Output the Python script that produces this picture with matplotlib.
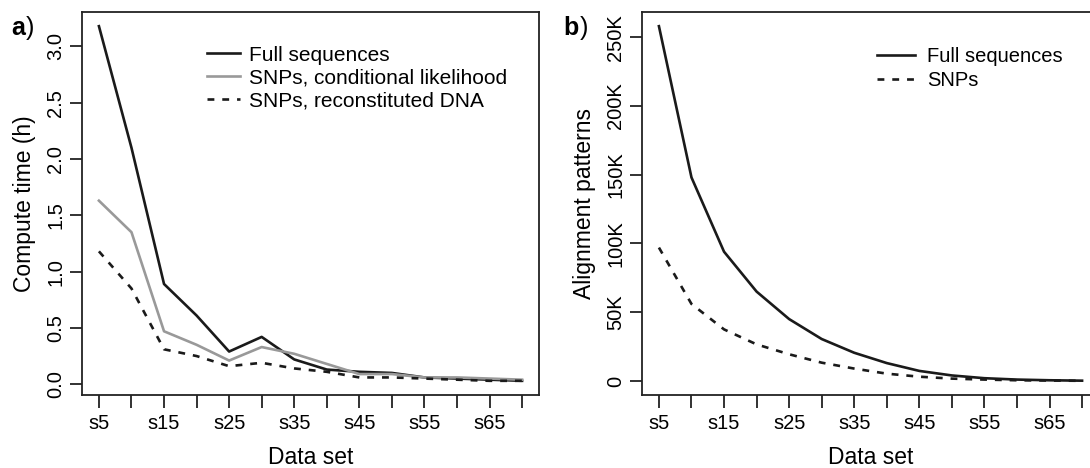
import numpy as np
import matplotlib
matplotlib.use('Agg')
import matplotlib.pyplot as plt

plt.rcParams['font.family'] = ['Liberation Sans', 'DejaVu Sans']

# data sets s5 .. s70
sets = [5, 10, 15, 20, 25, 30, 35, 40, 45, 50, 55, 60, 65, 70]
set_labels = ['s%d' % s if i % 2 == 0 else '' for i, s in enumerate(sets)]

# a) compute time in hours
time_full = [3.18, 2.10, 0.89, 0.61, 0.29, 0.42, 0.22, 0.13, 0.11, 0.10, 0.06, 0.05, 0.04, 0.03]
time_snp_cl = [1.63, 1.35, 0.47, 0.35, 0.21, 0.33, 0.27, 0.18, 0.09, 0.09, 0.06, 0.06, 0.05, 0.04]
time_snp_dna = [1.18, 0.85, 0.31, 0.25, 0.16, 0.19, 0.14, 0.11, 0.06, 0.06, 0.05, 0.04, 0.03, 0.03]

# b) alignment patterns
pat_full = [258000, 148000, 94000, 65000, 45000, 30500, 20500, 13000, 7300, 4000, 2000, 1000, 500, 200]
pat_snp = [97000, 56000, 37500, 26600, 19400, 13300, 9000, 5300, 3100, 1700, 1000, 500, 300, 100]

a_yticks = [0.0, 0.5, 1.0, 1.5, 2.0, 2.5, 3.0]
b_yticks = [0, 50000, 100000, 150000, 200000, 250000]
b_ylabels = ['0', '50K', '100K', '150K', '200K', '250K']

W, H = 1090, 468
fig = plt.figure(figsize=(W / 100, H / 100), dpi=100)

ax_w = 457 / W
ax_h = 383 / H
ax_b = 73 / H
axa = fig.add_axes([82 / W, ax_b, ax_w, ax_h])
axb = fig.add_axes([642 / W, ax_b, ax_w, ax_h])

dark = '#1a1a1a'
grey = '#999999'
lw = 1.9
dash = (2.6, 3.0)


def r_limits(vals):
    # R style 4% padding
    lo, hi = min(vals), max(vals)
    pad = (hi - lo) * 0.04
    return lo - pad, hi + pad


def style(ax):
    for sp in ax.spines.values():
        sp.set_linewidth(1.3)
        sp.set_color('#222222')
    ax.tick_params(axis='both', length=9, width=1.3, color='#222222',
                   labelsize=14.5, pad=5)
    ax.tick_params(axis='y', pad=3)
    ax.set_xticks(sets)
    ax.set_xticklabels(set_labels)
    ax.set_xlim(r_limits(sets))
    ax.set_xlabel('Data set', fontsize=16.5, labelpad=9)


# panel a
axa.plot(sets, time_full, color=dark, lw=lw, label='Full sequences')
axa.plot(sets, time_snp_cl, color=grey, lw=lw, label='SNPs, conditional likelihood')
axa.plot(sets, time_snp_dna, color=dark, lw=lw, dashes=dash, label='SNPs, reconstituted DNA')
style(axa)
axa.set_ylim(r_limits(time_full + time_snp_cl + time_snp_dna))
axa.set_yticks(a_yticks)
axa.set_yticklabels(['%.1f' % v for v in a_yticks], rotation=90, va='center')
axa.set_ylabel('Compute time (h)', fontsize=16.5, labelpad=7.5)
axa.legend(loc='upper left', bbox_to_anchor=(0.2735, 0.912), frameon=False,
           fontsize=15, borderpad=0, borderaxespad=0, handlelength=1.6,
           handletextpad=0.4, labelspacing=0.18)

# panel b
axb.plot(sets, pat_full, color=dark, lw=lw, label='Full sequences')
axb.plot(sets, pat_snp, color=dark, lw=lw, dashes=dash, label='SNPs')
style(axb)
axb.set_ylim(r_limits(pat_full + pat_snp))
axb.set_yticks(b_yticks)
axb.set_yticklabels(b_ylabels, rotation=90, va='center')
axb.set_ylabel('Alignment patterns', fontsize=16.5, labelpad=7.5)
axb.legend(loc='upper left', bbox_to_anchor=(0.514, 0.909), frameon=False,
           fontsize=14.5, borderpad=0, borderaxespad=0, handlelength=1.9,
           handletextpad=0.6, labelspacing=0.25)

# panel letters
for x, letter in [(11, 'a'), (563, 'b')]:
    t = fig.text(x / W, 1 - 35 / H, letter, fontsize=18, fontweight='bold', va='baseline')
    fig.canvas.draw()
    bb = t.get_window_extent()
    fig.text(bb.x1 / W + 0.001, 1 - 35 / H, ')', fontsize=18, va='baseline')

fig.savefig('out.png', dpi=100)
